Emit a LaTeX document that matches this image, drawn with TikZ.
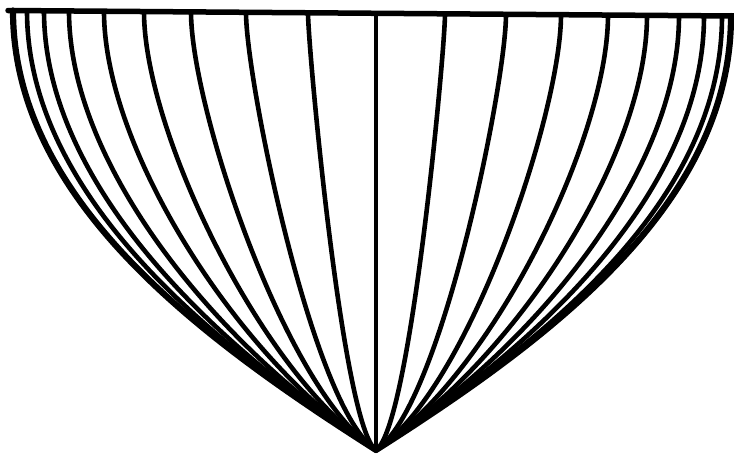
\documentclass[tikz,border=0pt]{standalone}
\begin{document}
\begin{tikzpicture}[x=1pt,y=-1pt,line cap=round,line join=round,
  rib/.style={line width=4.6pt,black},
  outerrib/.style={line width=6.2pt,black},
  rim/.style={line width=5.5pt,black}]
\useasboundingbox (0,0) rectangle (734,455);
% vertex
\coordinate (V) at (376,450);
% left ribs
\foreach \xt in {13,27,44,69,104,144,191,246,308} {
  \pgfmathsetmacro\s{(376-\xt)/363}
  \pgfmathsetmacro\yt{10.5+(\xt-8)*0.00758}
  \pgfmathsetmacro\ya{\yt+189*\s}
  \pgfmathsetmacro\xb{376-176*\s}
  \pgfmathsetmacro\yb{450-112*\s}
  \draw[rib] (\xt,\yt) .. controls (\xt,\ya) and (\xb,\yb) .. (V);
}
% right ribs
\foreach \xt in {445,506,561,608,647,679,704,722,731} {
  \pgfmathsetmacro\s{(\xt-376)/355}
  \pgfmathsetmacro\yt{10.5+(\xt-8)*0.00758}
  \pgfmathsetmacro\ya{\yt+189*\s}
  \pgfmathsetmacro\xb{376+176*\s}
  \pgfmathsetmacro\yb{450-112*\s}
  \draw[rib] (\xt,\yt) .. controls (\xt,\ya) and (\xb,\yb) .. (V);
}
% outermost ribs (thicker)
\draw[outerrib] (13,10.5) .. controls (13,200) and (200,338) .. (V);
\draw[outerrib] (731,16) .. controls (731,204) and (552,338) .. (V);
% centre rib
\draw[rib] (376,13.3) -- (V);
% top rim
\coordinate (TL) at (8,10.5);
\coordinate (TR) at (734,16);
\draw[rim] (TL) -- (TR);
\end{tikzpicture}
\end{document}
